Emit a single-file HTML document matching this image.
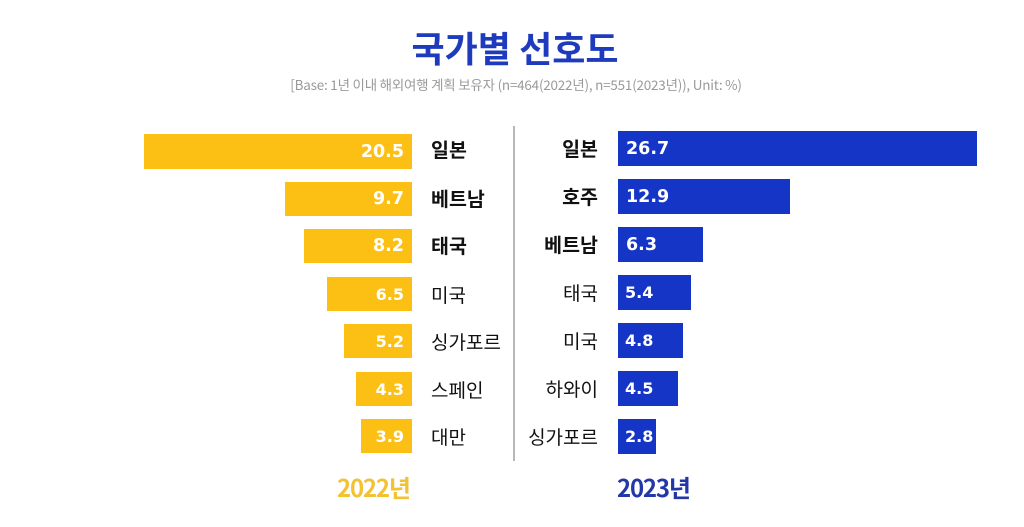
<!DOCTYPE html>
<html>
<head>
<meta charset="utf-8">
<style>
  html,body{margin:0;padding:0;background:#fff;}
  body{width:1024px;height:527px;position:relative;overflow:hidden;font-family:"Liberation Sans","Noto Sans CJK KR",sans-serif;}
  .abs{position:absolute;}
  .title{left:0;width:1030px;top:27px;text-align:center;font-family:"Noto Sans CJK KR",sans-serif;font-weight:700;font-size:36px;line-height:40px;color:#1f3bbd;}
  .sub{left:0;width:1032px;top:74px;text-align:center;font-family:"Noto Sans CJK KR",sans-serif;font-size:13.45px;line-height:20px;color:#9a9a9a;letter-spacing:-0.2px;}
  .lb{background:#fcc015;}
  .rb{background:#1435c6;}
  .row{display:flex;align-items:center;}
  .lv{justify-content:flex-end;color:#fff;font-family:"DejaVu Sans",sans-serif;font-weight:700;}
  .rv{justify-content:flex-start;color:#fff;font-family:"DejaVu Sans",sans-serif;font-weight:700;}
  .ll{justify-content:flex-start;font-family:"Noto Sans CJK KR",sans-serif;color:#111;}
  .rl{justify-content:flex-end;font-family:"Noto Sans CJK KR",sans-serif;color:#111;}
  .b{font-weight:700;font-size:19.5px;}
  .n{font-weight:400;font-size:19px;}
  .big{font-size:17.5px;}
  .sm{font-size:16px;}
  .divider{left:513px;top:126px;width:1.5px;height:335px;background:#b8b8b8;}
  .year{font-family:"Noto Sans CJK KR",sans-serif;font-weight:700;font-size:24px;line-height:30px;letter-spacing:-1.2px;top:472px;}
</style>
</head>
<body>
<div class="abs title">국가별 선호도</div>
<div class="abs sub">[Base: 1년 이내 해외여행 계획 보유자 (n=464(2022년), n=551(2023년)), Unit: %)</div>

<div class="abs divider"></div>

<!-- Left bars 2022 -->
<div class="abs lb" style="left:144px;top:134px;width:268px;height:35px;"></div>
<div class="abs lb" style="left:285px;top:182px;width:127px;height:34px;"></div>
<div class="abs lb" style="left:304px;top:229px;width:108px;height:34px;"></div>
<div class="abs lb" style="left:327px;top:277px;width:85px;height:34px;"></div>
<div class="abs lb" style="left:344px;top:324px;width:68px;height:34px;"></div>
<div class="abs lb" style="left:356px;top:372px;width:56px;height:34px;"></div>
<div class="abs lb" style="left:361px;top:419px;width:51px;height:34px;"></div>

<!-- Left values -->
<div class="abs row lv big" style="left:200px;width:204px;top:134px;height:35px;">20.5</div>
<div class="abs row lv big" style="left:200px;width:204px;top:182px;height:34px;">9.7</div>
<div class="abs row lv big" style="left:200px;width:204px;top:229px;height:34px;">8.2</div>
<div class="abs row lv sm" style="left:200px;width:204px;top:277px;height:34px;">6.5</div>
<div class="abs row lv sm" style="left:200px;width:204px;top:324px;height:34px;">5.2</div>
<div class="abs row lv sm" style="left:200px;width:204px;top:372px;height:34px;">4.3</div>
<div class="abs row lv sm" style="left:200px;width:204px;top:419px;height:34px;">3.9</div>

<!-- Left labels -->
<div class="abs row ll b" style="left:431px;width:90px;top:131px;height:35px;">일본</div>
<div class="abs row ll b" style="left:431px;width:90px;top:180px;height:34px;">베트남</div>
<div class="abs row ll b" style="left:431px;width:90px;top:227px;height:34px;">태국</div>
<div class="abs row ll n" style="left:431px;width:90px;top:277px;height:34px;">미국</div>
<div class="abs row ll n" style="left:431px;width:90px;top:324px;height:34px;">싱가포르</div>
<div class="abs row ll n" style="left:431px;width:90px;top:372px;height:34px;">스페인</div>
<div class="abs row ll n" style="left:431px;width:90px;top:419px;height:34px;">대만</div>

<!-- Right bars 2023 -->
<div class="abs rb" style="left:618px;top:131px;width:359px;height:35px;"></div>
<div class="abs rb" style="left:618px;top:179px;width:172px;height:35px;"></div>
<div class="abs rb" style="left:618px;top:227px;width:85px;height:35px;"></div>
<div class="abs rb" style="left:618px;top:275px;width:73px;height:35px;"></div>
<div class="abs rb" style="left:618px;top:323px;width:65px;height:35px;"></div>
<div class="abs rb" style="left:618px;top:371px;width:60px;height:35px;"></div>
<div class="abs rb" style="left:618px;top:419px;width:38px;height:35px;"></div>

<!-- Right values -->
<div class="abs row rv big" style="left:626px;width:200px;top:131px;height:35px;">26.7</div>
<div class="abs row rv big" style="left:626px;width:200px;top:179px;height:35px;">12.9</div>
<div class="abs row rv big" style="left:626px;width:200px;top:227px;height:35px;">6.3</div>
<div class="abs row rv sm" style="left:625px;width:200px;top:275px;height:35px;">5.4</div>
<div class="abs row rv sm" style="left:625px;width:200px;top:323px;height:35px;">4.8</div>
<div class="abs row rv sm" style="left:625px;width:200px;top:371px;height:35px;">4.5</div>
<div class="abs row rv sm" style="left:625px;width:200px;top:419px;height:35px;">2.8</div>

<!-- Right labels -->
<div class="abs row rl b" style="left:497px;width:101px;top:130px;height:35px;">일본</div>
<div class="abs row rl b" style="left:497px;width:101px;top:178px;height:35px;">호주</div>
<div class="abs row rl b" style="left:497px;width:101px;top:226px;height:35px;">베트남</div>
<div class="abs row rl n" style="left:497px;width:101px;top:275px;height:35px;">태국</div>
<div class="abs row rl n" style="left:497px;width:101px;top:323px;height:35px;">미국</div>
<div class="abs row rl n" style="left:497px;width:101px;top:371px;height:35px;">하와이</div>
<div class="abs row rl n" style="left:497px;width:101px;top:419px;height:35px;">싱가포르</div>

<!-- Year labels -->
<div class="abs year" style="left:337px;color:#f2c232;">2022년</div>
<div class="abs year" style="left:617px;color:#2238a8;">2023년</div>
</body>
</html>
